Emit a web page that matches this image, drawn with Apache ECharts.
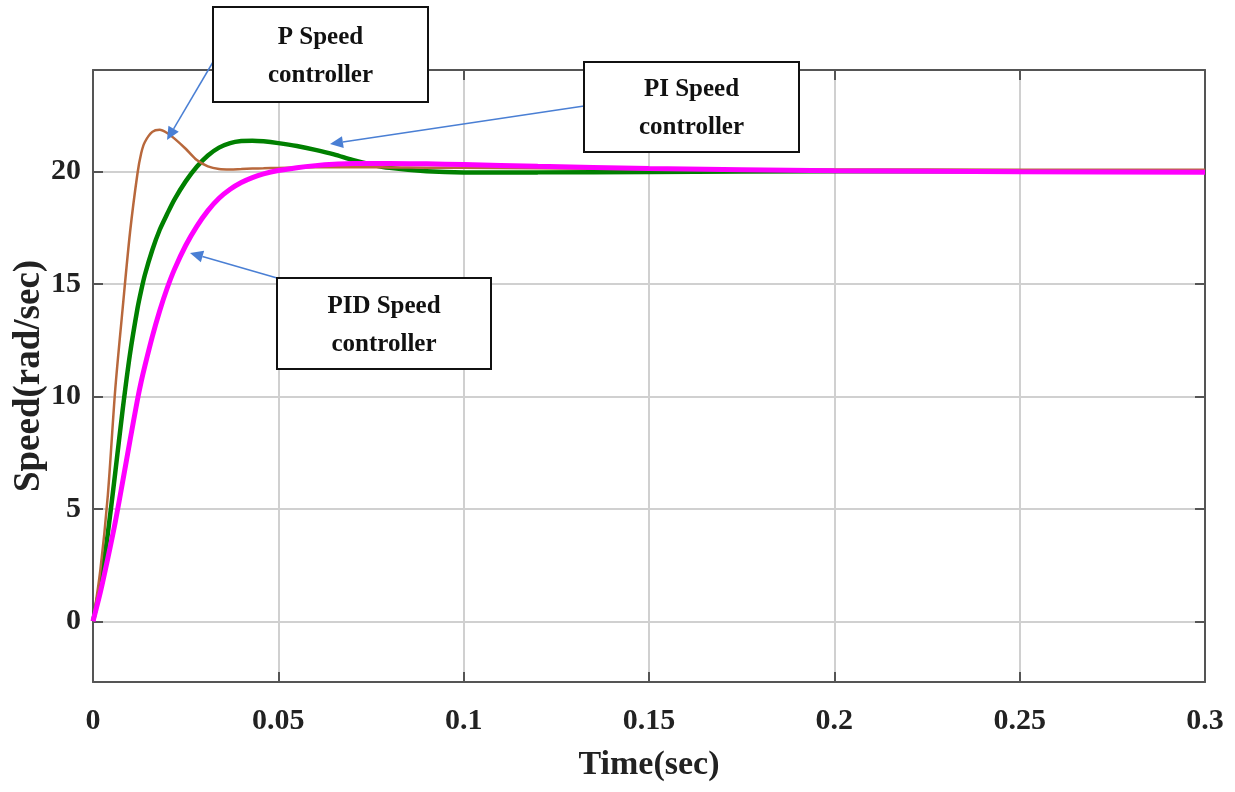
<!DOCTYPE html>
<html>
<head>
<meta charset="utf-8">
<script src="https://cdn.jsdelivr.net/npm/echarts@6/dist/echarts.min.js"></script>
<style>html,body{margin:0;padding:0;background:#fff}#c{width:1235px;height:792px}</style>
</head>
<body>
<div id="c"></div>
<script>
const timeSec = [0, 0.002, 0.004, 0.006, 0.008, 0.010, 0.012, 0.013, 0.014, 0.016, 0.018, 0.020, 0.022, 0.025, 0.028, 0.031, 0.034, 0.037, 0.040, 0.043, 0.046, 0.050, 0.055, 0.060, 0.065, 0.070, 0.075, 0.080, 0.090, 0.100, 0.120, 0.150, 0.200, 0.250, 0.300];
const pSpeed   = [0, 2.3, 5.6, 10.3, 13.9, 17.3, 19.9, 20.8, 21.3, 21.75, 21.84, 21.7, 21.45, 21.0, 20.5, 20.22, 20.1, 20.08, 20.1, 20.12, 20.13, 20.15, 20.17, 20.18, 20.18, 20.18, 20.18, 20.17, 20.16, 20.15, 20.13, 20.1, 20.08, 20.07, 20.07];
const piSpeed  = [0, 1.6, 3.9, 6.6, 9.4, 11.9, 13.9, 14.7, 15.4, 16.5, 17.4, 18.1, 18.75, 19.55, 20.2, 20.7, 21.05, 21.25, 21.34, 21.36, 21.33, 21.25, 21.12, 20.95, 20.75, 20.5, 20.3, 20.15, 20.0, 19.95, 19.95, 19.97, 20.0, 20.0, 20.0];
const pidSpeed = [0, 1.3, 2.8, 4.4, 6.2, 8.05, 9.85, 10.65, 11.35, 12.65, 13.8, 14.8, 15.65, 16.7, 17.55, 18.25, 18.8, 19.2, 19.5, 19.72, 19.88, 20.03, 20.16, 20.25, 20.31, 20.34, 20.35, 20.35, 20.33, 20.3, 20.22, 20.12, 20.02, 19.98, 19.96];
const xTicks = [0, 0.05, 0.1, 0.15, 0.2, 0.25, 0.3];
const yTicks = [0, 5, 10, 15, 20];
const labels = ['P Speed\ncontroller', 'PI Speed\ncontroller', 'PID Speed\ncontroller'];

const pair = (ys) => timeSec.map((t, i) => [t, ys[i]]);
const chart = echarts.init(document.getElementById('c'), null, {renderer: 'canvas'});
const serif = '"Liberation Serif", "Times New Roman", serif';
const axisCol = '#555';
const gridCol = '#d0d0d0';

function arrow(x1, y1, x2, y2) {
  const ang = Math.atan2(y2 - y1, x2 - x1);
  const L = 13, W = 6;
  const bx = x2 - L * Math.cos(ang), by = y2 - L * Math.sin(ang);
  const px = -Math.sin(ang) * W, py = Math.cos(ang) * W;
  return [
    {type: 'line', shape: {x1, y1, x2: bx, y2: by}, style: {stroke: '#4a7fd4', lineWidth: 1.5}, z: 100},
    {type: 'polygon', shape: {points: [[x2, y2], [bx + px, by + py], [bx - px, by - py]]}, style: {fill: '#4a7fd4'}, z: 100}
  ];
}
function box(x, y, w, h, txt) {
  return [
    {type: 'rect', shape: {x, y, width: w, height: h}, style: {fill: '#fff', stroke: '#111', lineWidth: 2}, z: 101},
    {type: 'text', x: x + w / 2, y: y + h / 2 + 2, style: {text: txt, font: 'bold 25px ' + serif, fill: '#111', align: 'center', verticalAlign: 'middle', lineHeight: 38}, z: 102}
  ];
}

const option = {
  backgroundColor: '#fff',
  animation: false,
  grid: {left: 93, right: 30, top: 70, bottom: 110, containLabel: false, outerBoundsMode: 'none'},
  xAxis: [{
    type: 'value', min: 0, max: 0.3, interval: 0.05,
    name: 'Time(sec)', nameLocation: 'middle', nameGap: 66, nameMoveOverlap: false,
    nameTextStyle: {fontFamily: serif, fontWeight: 'bold', fontSize: 34, color: '#222'},
    axisLine: {show: true, onZero: false, lineStyle: {color: axisCol, width: 2}},
    axisTick: {show: true, inside: true, length: 10, lineStyle: {color: axisCol, width: 2}},
    axisLabel: {fontFamily: serif, fontWeight: 'bold', fontSize: 30, color: '#222', margin: 24, formatter: v => String(+v.toFixed(2))},
    splitLine: {show: true, lineStyle: {color: gridCol, width: 2}}
  }, {
    type: 'value', min: 0, max: 0.3, interval: 0.05, position: 'top',
    axisLine: {show: true, onZero: false, lineStyle: {color: axisCol, width: 2}},
    axisTick: {show: true, inside: true, length: 10, lineStyle: {color: axisCol, width: 2}},
    axisLabel: {show: false}, splitLine: {show: false}
  }],
  yAxis: [{
    type: 'value', min: -2.7, max: 24.5,
    name: 'Speed(rad/sec)', nameLocation: 'middle', nameGap: 45, nameMoveOverlap: false,
    nameTextStyle: {fontFamily: serif, fontWeight: 'bold', fontSize: 37, color: '#222'},
    axisLine: {show: true, onZero: false, lineStyle: {color: axisCol, width: 2}},
    axisTick: {show: true, inside: true, length: 10, customValues: yTicks, lineStyle: {color: axisCol, width: 2}},
    axisLabel: {fontFamily: serif, fontWeight: 'bold', fontSize: 30, color: '#222', margin: 12, customValues: yTicks},
    splitLine: {show: true, lineStyle: {color: gridCol, width: 2}}
  }, {
    type: 'value', min: -2.7, max: 24.5, position: 'right',
    axisLine: {show: true, onZero: false, lineStyle: {color: axisCol, width: 2}},
    axisTick: {show: true, inside: true, length: 10, customValues: yTicks, lineStyle: {color: axisCol, width: 2}},
    axisLabel: {show: false}, splitLine: {show: false}
  }],
  series: [
    {name: 'P', type: 'line', data: pair(pSpeed), smooth: 0.3, showSymbol: false, lineStyle: {color: '#b8683c', width: 2.5}, z: 5},
    {name: 'PI', type: 'line', data: pair(piSpeed), smooth: 0.3, showSymbol: false, lineStyle: {color: '#008000', width: 4.5}, z: 4},
    {name: 'PID', type: 'line', data: pair(pidSpeed), smooth: 0.3, showSymbol: false, lineStyle: {color: '#ff00ff', width: 5}, z: 6}
  ],
  graphic: [].concat(
    arrow(213, 62, 167, 140),
    arrow(584, 106, 330, 144),
    arrow(277, 278, 190, 253),
    box(213, 7, 215, 95, labels[0]),
    box(584, 62, 215, 90, labels[1]),
    box(277, 278, 214, 91, labels[2])
  )
};
chart.setOption(option);
</script>
</body>
</html>
